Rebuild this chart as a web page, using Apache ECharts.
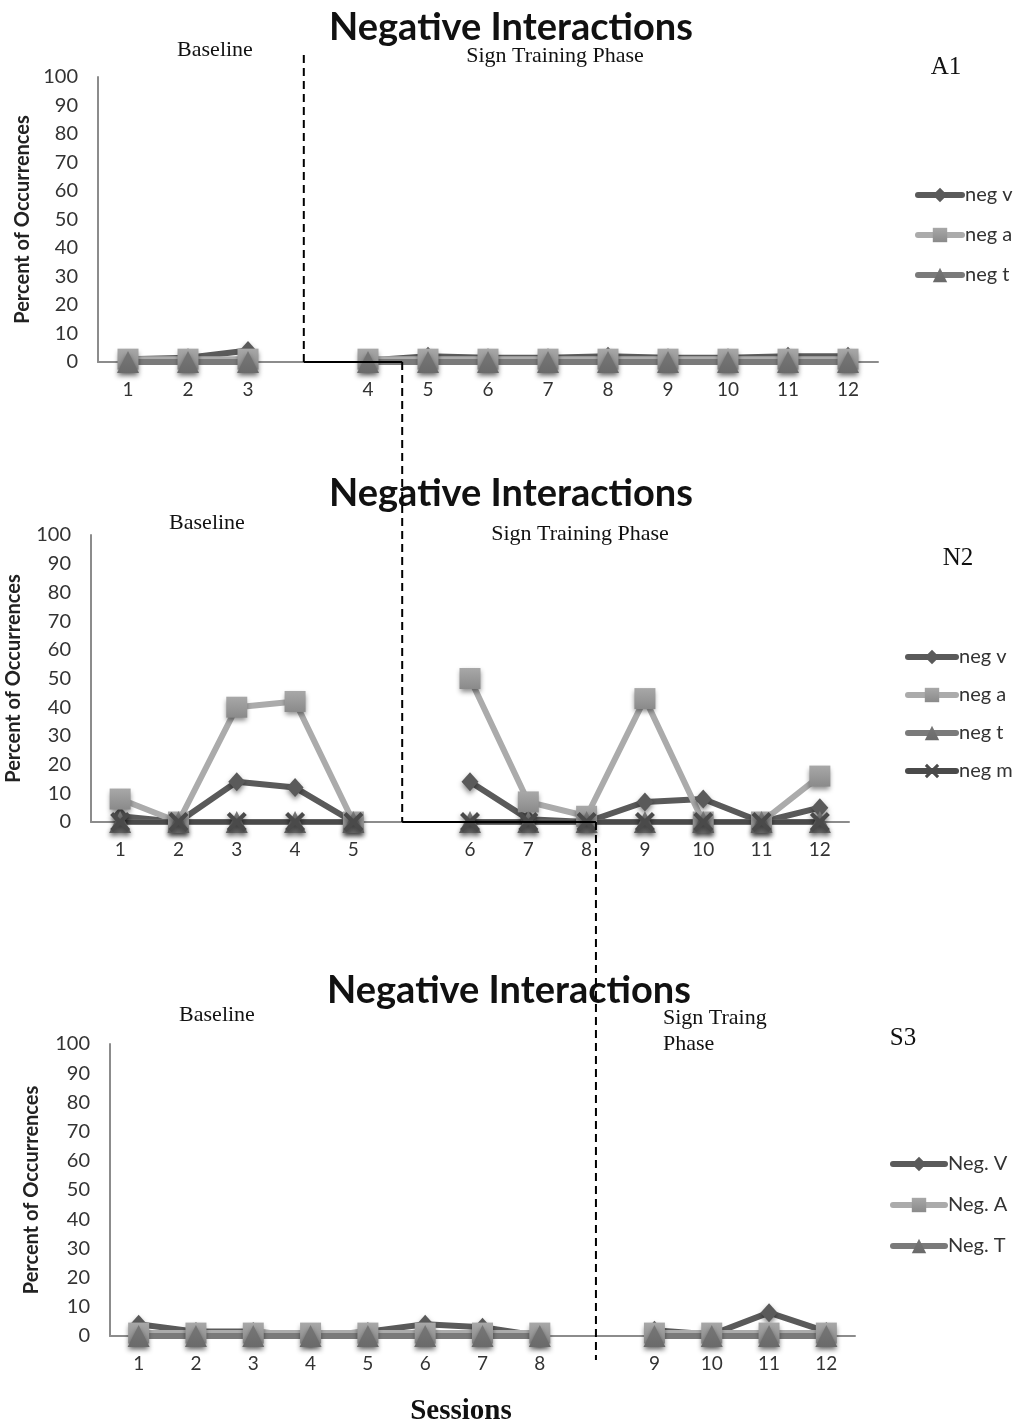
<!DOCTYPE html>
<html>
<head>
<meta charset="utf-8">
<script src="https://cdn.jsdelivr.net/npm/echarts@6/dist/echarts.min.js"></script>
<style>
  html, body { margin: 0; padding: 0; background: #ffffff; }
  #chart { width: 1022px; height: 1427px; }
</style>
</head>
<body>
<div id="chart"></div>
<script>
// Session categories; the empty slot marks the phase change gap
const sessionsA1 = ['1', '2', '3', '', '4', '5', '6', '7', '8', '9', '10', '11', '12'];
const sessionsN2 = ['1', '2', '3', '4', '5', '', '6', '7', '8', '9', '10', '11', '12'];
const sessionsS3 = ['1', '2', '3', '4', '5', '6', '7', '8', '', '9', '10', '11', '12'];
const yTicks = [0, 10, 20, 30, 40, 50, 60, 70, 80, 90, 100];

// A1 (percent of occurrences)
const a1NegV = [1, 1.5, 4, null, 0.5, 2, 1.5, 1.5, 2, 1.5, 1.5, 2, 2];
const a1NegA = [1, 1, 1, null, 1, 1, 1, 1, 1, 1, 1, 1, 1];
const a1NegT = [0, 0, 0, null, 0, 0, 0, 0, 0, 0, 0, 0, 0];

// N2
const n2NegV = [2, 0, 14, 12, 0, null, 14, 1, 0, 7, 8, 0, 5];
const n2NegA = [8, 0, 40, 42, 0, null, 50, 7, 2, 43, 0, 0, 16];
const n2NegT = [0, 0, 0, 0, 0, null, 0, 0, 0, 0, 0, 0, 0];
const n2NegM = [0, 0, 0, 0, 0, null, 0, 0, 0, 0, 0, 0, 0];

// S3
const s3NegV = [4, 1.5, 1.5, 0, 1.5, 4, 3, 0, null, 2, 0.5, 8, 1.5];
const s3NegA = [1, 1, 1, 1, 1, 1, 1, 1, null, 1, 1, 1, 1];
const s3NegT = [0, 0, 0, 0, 0, 0, 0, 0, null, 0, 0, 0, 0];

const SANS = 'Lato';
const SERIF = 'Liberation Serif';

const COL_V = '#5a5a5a';
const COL_A = '#ababab';
const COL_T = '#7a7a7a';
const COL_M = '#4a4a4a';

const crossPath = 'path://M0,3 L3,0 L10,7 L17,0 L20,3 L13,10 L20,17 L17,20 L10,13 L3,20 L0,17 L7,10 Z';

const markerShadow = { shadowBlur: 5, shadowColor: 'rgba(0,0,0,0.45)', shadowOffsetY: 3 };

function makeSeries(name, data, idx, kind) {
  const styles = {
    v: { color: COL_V, symbol: 'diamond', size: [17, 19], width: 6 },
    a: { color: COL_A, symbol: 'rect', size: 21, width: 6, markerColor: {
      type: 'linear', x: 0, y: 0, x2: 0, y2: 1,
      colorStops: [{ offset: 0, color: '#a8a8a8' }, { offset: 1, color: '#8a8a8a' }] } },
    t: { color: COL_T, symbol: 'triangle', size: [22, 22], width: 6, markerColor: {
      type: 'linear', x: 0, y: 0, x2: 0, y2: 1,
      colorStops: [{ offset: 0, color: '#777777' }, { offset: 1, color: '#6a6a6a' }] } },
    m: { color: COL_M, symbol: crossPath, size: 20, width: 5 }
  }[kind];
  return {
    name: name,
    type: 'line',
    xAxisIndex: idx,
    yAxisIndex: idx,
    data: data,
    connectNulls: false,
    symbol: styles.symbol,
    symbolSize: styles.size,
    showAllSymbol: true,
    color: styles.color,
    lineStyle: { color: styles.color, width: styles.width, cap: 'round', join: 'round' },
    itemStyle: Object.assign({ color: styles.markerColor || styles.color }, markerShadow),
    emphasis: { disabled: true },
    animation: false
  };
}

function xAxisFor(idx, cats) {
  return {
    type: 'category',
    gridIndex: idx,
    data: cats,
    boundaryGap: true,
    axisLine: { show: true, lineStyle: { color: '#8c8c8c', width: 2 } },
    axisTick: { show: false },
    axisLabel: { fontFamily: SANS, fontSize: 19, color: '#333333', margin: 18, interval: 0 },
    splitLine: { show: false }
  };
}

function yAxisFor(idx, nameGap) {
  return {
    type: 'value',
    gridIndex: idx,
    min: 0,
    max: 100,
    interval: 10,
    name: 'Percent of Occurrences',
    nameLocation: 'middle',
    nameGap: nameGap,
    nameTextStyle: { fontFamily: SANS, fontWeight: 'bold', fontSize: 20, color: '#222222' },
    axisLine: { show: true, lineStyle: { color: '#8c8c8c', width: 2 } },
    axisTick: { show: false },
    axisLabel: { fontFamily: SANS, fontSize: 20, color: '#333333', margin: 20 },
    splitLine: { show: false }
  };
}

function legendFor(names, left, top, gap, itemWidth) {
  return {
    data: names,
    orient: 'vertical',
    left: left,
    top: top,
    itemGap: gap,
    itemWidth: itemWidth,
    itemHeight: 18,
    selectedMode: false,
    lineStyle: { width: 6, cap: 'round' },
    textStyle: { fontFamily: SANS, fontSize: 20, color: '#333333', padding: [0, 0, 0, -2] }
  };
}

const chart = echarts.init(document.getElementById('chart'), null, { renderer: 'canvas' });

const option = {
  backgroundColor: '#ffffff',
  animation: false,
  grid: [
    { left: 98, top: 77, width: 780, height: 285, outerBoundsMode: 'none', containLabel: false },
    { left: 91, top: 535, width: 758, height: 287, outerBoundsMode: 'none', containLabel: false },
    { left: 110, top: 1044, width: 745, height: 292, outerBoundsMode: 'none', containLabel: false }
  ],
  xAxis: [xAxisFor(0, sessionsA1), xAxisFor(1, sessionsN2), xAxisFor(2, sessionsS3)],
  yAxis: [yAxisFor(0, 63), yAxisFor(1, 67), yAxisFor(2, 68)],
  legend: [
    legendFor(['neg v', 'neg a', 'neg t'], 910, 180, 20, 44),
    legendFor(['neg v', 'neg a', 'neg t', 'neg m'], 900, 642, 18, 48),
    legendFor(['Neg. V', 'Neg. A', 'Neg. T'], 885, 1149, 21, 52)
  ],
  series: [
    makeSeries('neg v', a1NegV, 0, 'v'),
    makeSeries('neg a', a1NegA, 0, 'a'),
    makeSeries('neg t', a1NegT, 0, 't'),
    makeSeries('neg v', n2NegV, 1, 'v'),
    makeSeries('neg a', n2NegA, 1, 'a'),
    makeSeries('neg t', n2NegT, 1, 't'),
    makeSeries('neg m', n2NegM, 1, 'm'),
    makeSeries('Neg. V', s3NegV, 2, 'v'),
    makeSeries('Neg. A', s3NegA, 2, 'a'),
    makeSeries('Neg. T', s3NegT, 2, 't')
  ]
};

chart.setOption(option);

// Phase-change lines: positions given in category units of each panel
const phaseA1 = 2.93;      // dashed line after session 3
const stepA1End = 4.57;    // step runs to between sessions 4 and 5
const stepN2End = 8.16;    // step runs just past session 8

function xAt(axisIdx, pos) {
  const i0 = Math.floor(pos);
  const p0 = chart.convertToPixel({ xAxisIndex: axisIdx }, i0);
  const p1 = chart.convertToPixel({ xAxisIndex: axisIdx }, i0 + 1);
  return p0 + (p1 - p0) * (pos - i0);
}
function yAt(axisIdx, v) {
  return chart.convertToPixel({ yAxisIndex: axisIdx }, v);
}

const xa = xAt(0, phaseA1);
const xb = xAt(0, stepA1End);
const xc = xAt(1, stepN2End);
const y0A = yAt(0, 0), y100A = yAt(0, 100);
const y0N = yAt(1, 0);
const y0S = yAt(2, 0);

const dash = { stroke: '#000000', lineWidth: 2, lineDash: [8, 5] };
const solid = { stroke: '#000000', lineWidth: 2 };

function label(text, x, y, font, align) {
  return {
    type: 'text', x: x, y: y, z: 50,
    style: { text: text, font: font, fill: '#111111', textAlign: align || 'center', textVerticalAlign: 'middle' }
  };
}
const titleFont = 'bold 38px ' + SANS;
const phaseFont = '22px "' + SERIF + '"';
const idFont = '25px "' + SERIF + '"';

chart.setOption({
  graphic: [
    label('Negative Interactions', 511, 28, titleFont),
    label('Negative Interactions', 511, 494, titleFont),
    label('Negative Interactions', 509, 991, titleFont),
    label('Baseline', 215, 50, phaseFont),
    label('Sign Training Phase', 555, 56, phaseFont),
    label('A1', 946, 67, idFont),
    label('Baseline', 207, 523, phaseFont),
    label('Sign Training Phase', 580, 534, phaseFont),
    label('N2', 958, 558, idFont),
    label('Baseline', 217, 1015, phaseFont),
    label('Sign Traing', 663, 1018, phaseFont, 'left'),
    label('Phase', 663, 1044, phaseFont, 'left'),
    label('S3', 903, 1038, idFont),
    label('Sessions', 461, 1412, 'bold 29px "' + SERIF + '"'),
    { type: 'line', z: 100, shape: { x1: xa, y1: y100A - 22, x2: xa, y2: y0A }, style: dash },
    { type: 'line', z: 100, shape: { x1: xa, y1: y0A, x2: xb, y2: y0A }, style: solid },
    { type: 'line', z: 100, shape: { x1: xb, y1: y0A, x2: xb, y2: y0N }, style: dash },
    { type: 'line', z: 100, shape: { x1: xb, y1: y0N, x2: xc, y2: y0N }, style: solid },
    { type: 'line', z: 100, shape: { x1: xc, y1: y0N, x2: xc, y2: y0S + 24 }, style: dash }
  ]
});
</script>
</body>
</html>
